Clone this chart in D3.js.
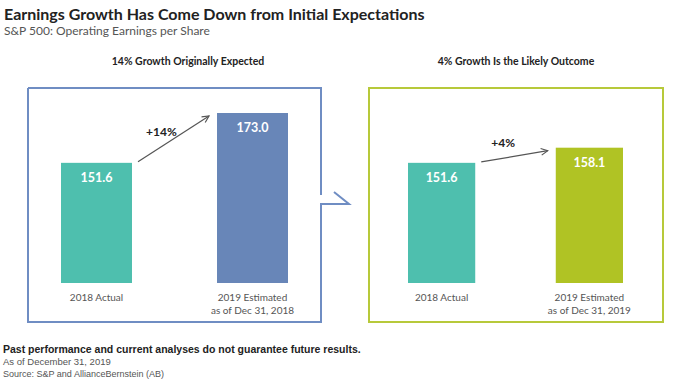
<!DOCTYPE html>
<html>
<head>
<meta charset="utf-8">
<script src="https://cdn.jsdelivr.net/npm/d3@7"></script>
<style>
  body { margin: 0; background: #fff; }
  svg { font-family: Lato, "Open Sans", sans-serif; }
</style>
</head>
<body>
<div id="chart"></div>
<script>
// chart data
const panelTitles = ["14% Growth Originally Expected", "4% Growth Is the Likely Outcome"];
const categories = ["2018 Actual", "2019 Estimated"];
const secondLines = ["as of Dec 31, 2018", "as of Dec 31, 2019"];
const valuesExpected = [151.6, 173.0];
const valuesLikely = [151.6, 158.1];
const growthLabels = ["+14%", "+4%"];

const teal = "#4ebfae", blue = "#6886b8", green = "#b0c324";

const width = 690, height = 380;
const svg = d3.select("#chart").append("svg").attr("width", width).attr("height", height);

svg.append("defs").append("marker")
    .attr("id", "arr").attr("viewBox", "0 0 10 10").attr("refX", 9).attr("refY", 5)
    .attr("markerWidth", 7).attr("markerHeight", 7).attr("orient", "auto")
    .append("path").attr("d", "M1,1 L9,5 L1,9").attr("fill", "none").attr("stroke", "#555").attr("stroke-width", 1.4);

// header
svg.append("text").attr("x", 4).attr("y", 20).attr("font-size", 16).attr("font-weight", 700).attr("fill", "#222")
    .text("Earnings Growth Has Come Down from Initial Expectations");
svg.append("text").attr("x", 4).attr("y", 35).attr("font-size", 12).attr("fill", "#555")
    .text("S&P 500: Operating Earnings per Share");

// shared y scale (axis starts near 100)
const y = d3.scaleLinear().domain([100, 173]).range([283, 113]);

// box outlines
svg.append("path").attr("d", "M28,88 H321 V195").attr("fill", "none").attr("stroke", "#6f8dc3").attr("stroke-width", 2);
svg.append("path").attr("d", "M334,192 L349,204 H321 V322 H28 V88").attr("fill", "none").attr("stroke", "#6f8dc3").attr("stroke-width", 2);
svg.append("rect").attr("x", 369).attr("y", 88).attr("width", 294).attr("height", 234)
    .attr("fill", "none").attr("stroke", "#b7c93a").attr("stroke-width", 2);

const panels = [
    {title: panelTitles[0], titleX: 188, values: valuesExpected, range: [61, 288], colors: [teal, blue], note: secondLines[0], growth: growthLabels[0]},
    {title: panelTitles[1], titleX: 516, values: valuesLikely, range: [408, 623], colors: [teal, green], note: secondLines[1], growth: growthLabels[1]}
];

panels.forEach(function (p) {
    const x = d3.scaleBand().domain(categories).range(p.range).paddingInner(0.545).paddingOuter(0);
    const g = svg.append("g");

    g.append("text").attr("x", p.titleX).attr("y", 65).attr("text-anchor", "middle")
        .attr("font-size", 10.5).attr("font-weight", 700).attr("fill", "#222").text(p.title);

    g.selectAll("rect.bar").data(p.values).enter().append("rect").attr("class", "bar")
        .attr("x", function (d, i) { return x(categories[i]); })
        .attr("y", function (d) { return y(d); })
        .attr("width", x.bandwidth())
        .attr("height", function (d) { return y.range()[0] - y(d); })
        .attr("fill", function (d, i) { return p.colors[i]; });

    g.selectAll("text.val").data(p.values).enter().append("text").attr("class", "val")
        .attr("x", function (d, i) { return x(categories[i]) + x.bandwidth() / 2; })
        .attr("y", function (d) { return y(d) + 19; })
        .attr("text-anchor", "middle").attr("font-size", 12.5).attr("font-weight", 700).attr("fill", "#fff")
        .text(function (d) { return d.toFixed(1); });

    categories.forEach(function (c, i) {
        const cx = x(c) + x.bandwidth() / 2;
        g.append("text").attr("x", cx).attr("y", 301).attr("text-anchor", "middle")
            .attr("font-size", 10).attr("fill", "#555").text(c);
        if (i === 1) {
            g.append("text").attr("x", cx).attr("y", 314).attr("text-anchor", "middle")
                .attr("font-size", 10).attr("fill", "#555").text(p.note);
        }
    });

    // growth arrow
    const x1 = x(categories[0]) + x.bandwidth() + 6, y1 = y(p.values[0]) - 1;
    const x2 = x(categories[1]) - 8, y2 = y(p.values[1]) + 3;
    g.append("line").attr("x1", x1).attr("y1", y1).attr("x2", x2).attr("y2", y2)
        .attr("stroke", "#555").attr("stroke-width", 1.2).attr("marker-end", "url(#arr)");
    const lx = x1 + 0.33 * (x2 - x1), ly = y1 + 0.33 * (y2 - y1);
    g.append("text").attr("x", lx).attr("y", ly - 11).attr("text-anchor", "middle")
        .attr("font-size", 12).attr("font-weight", 700).attr("fill", "#222").text(p.growth);
});

// footer
svg.append("text").attr("x", 3).attr("y", 353).attr("font-size", 10.5).attr("font-weight", 700).attr("fill", "#222")
    .attr("font-family", "'Liberation Sans', Arial, sans-serif")
    .text("Past performance and current analyses do not guarantee future results.");
svg.append("text").attr("x", 3).attr("y", 365).attr("font-size", 9.5).attr("fill", "#555")
    .attr("font-family", "'Liberation Sans', Arial, sans-serif").text("As of December 31, 2019");
svg.append("text").attr("x", 3).attr("y", 377).attr("font-size", 9).attr("fill", "#555")
    .attr("font-family", "'Liberation Sans', Arial, sans-serif").text("Source: S&P and AllianceBernstein (AB)");
</script>
</body>
</html>
